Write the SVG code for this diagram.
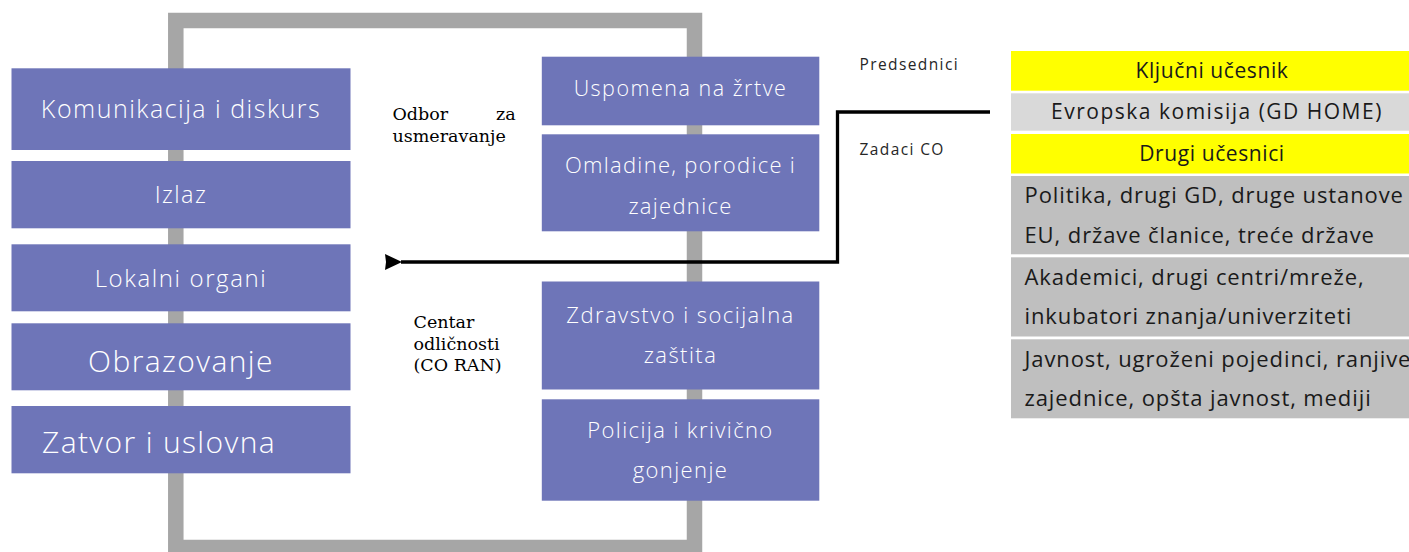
<svg xmlns="http://www.w3.org/2000/svg" width="1409" height="552" viewBox="0 0 1409 552">
<style>
.box{fill:#6e75b8}
.bt{font-family:"Open Sans","Liberation Sans",sans-serif;font-weight:300;fill:#ffffff;letter-spacing:0.06em}
.c{text-anchor:middle}
.tt{font-family:"Open Sans","Liberation Sans",sans-serif;font-weight:400;fill:#1a1a1a;font-size:21px;letter-spacing:0.6px}
.tl{font-size:22px;letter-spacing:0.9px}
.lab{font-family:"Open Sans","Liberation Sans",sans-serif;font-weight:400;fill:#262626;font-size:15.5px;letter-spacing:0.09em}
.ser{font-family:"DejaVu Serif","Liberation Serif",serif;font-size:17.5px;fill:#000000}
.conn{fill:none;stroke:#000000;stroke-width:3.3}
</style>
<defs>
<marker id="ah" markerUnits="userSpaceOnUse" markerWidth="20" markerHeight="20" refX="1" refY="9" orient="auto">
<path d="M0,9 L17,1 L16,9 L17,17 Z" fill="#000000"/>
</marker>
</defs>
<rect id="frame" x="175.8" y="20.5" width="518.7" height="527" fill="none" stroke="#a6a6a6" stroke-width="15.5"/>
<g id="n-komunikacija"><rect class="box" x="11.5" y="68.3" width="339" height="81.7"/><text class="bt c" x="181" y="118.3" font-size="25">Komunikacija i diskurs</text></g>
<g id="n-izlaz"><rect class="box" x="11.5" y="161" width="339" height="67.3"/><text class="bt c" x="181" y="203.3" font-size="23.5">Izlaz</text></g>
<g id="n-lokalni"><rect class="box" x="11.5" y="244.3" width="339" height="67"/><text class="bt c" x="181" y="287" font-size="24" style="letter-spacing:1.6px">Lokalni organi</text></g>
<g id="n-obrazovanje"><rect class="box" x="11.5" y="323.3" width="339" height="67"/><text class="bt c" x="181" y="371.7" font-size="30" style="letter-spacing:1.4px">Obrazovanje</text></g>
<g id="n-zatvor"><rect class="box" x="11.5" y="406" width="339" height="67.3"/><text class="bt" x="42" y="453.3" font-size="30" style="letter-spacing:1.37px">Zatvor i uslovna</text></g>
<g id="n-uspomena"><rect class="box" x="541.8" y="56.7" width="277.5" height="68.6"/><text class="bt c" x="680.5" y="95.7" font-size="21.5" style="letter-spacing:1.5px">Uspomena na žrtve</text></g>
<g id="n-omladine"><rect class="box" x="541.8" y="134.3" width="277.5" height="97"/><text class="bt c" x="680.5" y="173.3" font-size="22" style="letter-spacing:1.3px">Omladine, porodice i</text><text class="bt c" x="680.5" y="214" font-size="22" style="letter-spacing:1.3px">zajednice</text></g>
<g id="n-zdravstvo"><rect class="box" x="541.8" y="281.5" width="277.5" height="108"/><text class="bt c" x="680.5" y="323.3" font-size="22" style="letter-spacing:1.45px">Zdravstvo i socijalna</text><text class="bt c" x="680.5" y="363.3" font-size="22" style="letter-spacing:1.45px">zaštita</text></g>
<g id="n-policija"><rect class="box" x="541.8" y="399.3" width="277.5" height="101.4"/><text class="bt c" x="680.5" y="438.3" font-size="22" style="letter-spacing:1.4px">Policija i krivično</text><text class="bt c" x="680.5" y="478.3" font-size="22" style="letter-spacing:1.4px">gonjenje</text></g>
<g id="l-odbor"><text class="ser" y="120"><tspan x="392.5">Odbor</tspan><tspan x="496">za</tspan></text><text class="ser" x="392.5" y="141.7">usmeravanje</text></g>
<g id="l-centar"><text class="ser" x="413.5" y="328.3">Centar</text><text class="ser" x="413.5" y="349.5">odličnosti</text><text class="ser" x="413.5" y="370.5">(CO RAN)</text></g>
<g id="l-predsednici"><text class="lab" x="859.5" y="70">Predsednici</text></g>
<g id="l-zadaci"><text class="lab" x="859.5" y="155">Zadaci CO</text></g>
<g id="n-table">
<rect x="1011" y="51" width="420" height="39.7" fill="#ffff00"/>
<rect x="1011" y="93.3" width="420" height="37.4" fill="#d9d9d9"/>
<rect x="1011" y="134" width="420" height="39.5" fill="#ffff00"/>
<rect x="1011" y="176" width="420" height="78.3" fill="#bfbfbf"/>
<rect x="1011" y="257.3" width="420" height="79.2" fill="#bfbfbf"/>
<rect x="1011" y="339.3" width="420" height="79" fill="#bfbfbf"/>
<text class="tt c" x="1212" y="78">Ključni učesnik</text>
<text class="tt c" x="1217" y="119.3" style="letter-spacing:1.5px">Evropska komisija (GD HOME)</text>
<text class="tt c" x="1212" y="160.7">Drugi učesnici</text>
<text class="tt tl" x="1024.5" y="203">Politika, drugi GD, druge ustanove</text>
<text class="tt tl" x="1024.5" y="242.5">EU, države članice, treće države</text>
<text class="tt tl" x="1024.5" y="284.5">Akademici, drugi centri/mreže,</text>
<text class="tt tl" x="1024.5" y="324">inkubatori znanja/univerziteti</text>
<text class="tt tl" x="1024.5" y="366.5">Javnost, ugroženi pojedinci, ranjive</text>
<text class="tt tl" x="1024.5" y="405.5">zajednice, opšta javnost, mediji</text>
</g>
<g id="connectors">
<path class="conn" d="M990,112 H837.5 V262 H401" marker-end="url(#ah)"/>
</g>
</svg>
